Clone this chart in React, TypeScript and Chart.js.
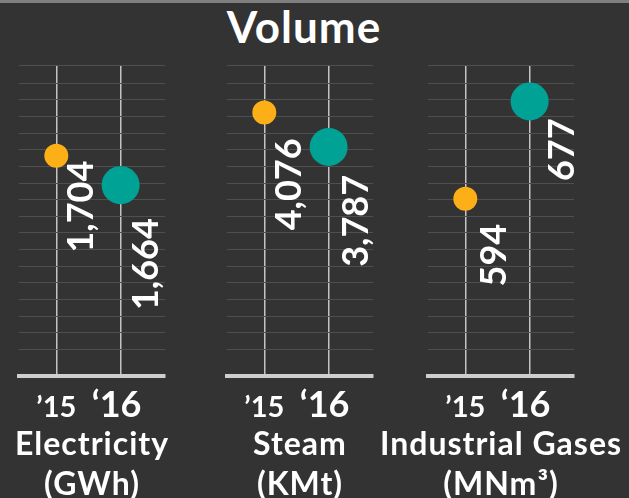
import React, { useEffect, useRef } from "react";
import { Chart, registerables } from "chart.js";

Chart.register(...registerables);

// ---- data ----
const YEARS = ["’15", "‘16"];
const CATEGORIES = ["Electricity", "Steam", "Industrial Gases"];
const UNITS = ["(GWh)", "(KMt)", "(MNm³)"];
const VALUES_2015 = [1704, 4076, 594];
const VALUES_2016 = [1664, 3787, 677];
const AXIS_MIN = [1405, 1869, 443];
const AXIS_MAX = [1827, 4473, 708];
const X_MIN = -0.58;
const X_MAX = 1.69;

// ---- layout / style ----
const W = 629;
const H = 498;
const PLOT_TOP = 65;
const PLOT_BOTTOM = 376;
const PANEL_LEFT = [19, 227, 428];
const PANEL_RIGHT = [165, 373, 574];
const LABEL_OFFSETS = [
  [[24, 5], [24, 33]],
  [[24, 26], [26, 28]],
  [[28, 25], [31, 17]],
];
const YEAR_DX = [0, -4];
const FONT = "Lato, 'Noto Sans', sans-serif";
const WEIGHT = "bold";
const ORANGE = "#FCAF17";
const TEAL = "#00A295";
const BG = "#333333";
const GRID = "#4f4f4f";
const VLINE = "#c4c4c4";
const BASE = "#cfcfcf";

function Panel({ index }: { index: number }) {
  const ref = useRef<HTMLCanvasElement | null>(null);
  useEffect(() => {
    const canvas = ref.current!;
    const values = [VALUES_2015[index], VALUES_2016[index]];
    const textPlugin = {
      id: "panelText",
      afterDraw(chart: any) {
        const ctx = chart.ctx as any;
        const xs = chart.scales.x;
        const area = chart.chartArea;
        const meta = chart.getDatasetMeta(0);
        ctx.save();
        ctx.fillStyle = "#ffffff";
        // rotated value labels
        meta.data.forEach((pt: any, i: number) => {
          const [dx, dy] = LABEL_OFFSETS[index][i];
          const size = 36;
          ctx.save();
          ctx.translate(pt.x + dx + size * 0.36, pt.y + dy);
          ctx.rotate(-Math.PI / 2);
          ctx.font = `${WEIGHT} ${size}px ${FONT}`;
          ctx.textAlign = "right";
          ctx.textBaseline = "alphabetic";
          ctx.fillText(values[i].toLocaleString("en-US"), 0, 0);
          ctx.restore();
        });
        // year labels
        YEARS.forEach((label, i) => {
          const size = i === 0 ? 29 : 36;
          ctx.font = `${WEIGHT} ${size}px ${FONT}`;
          ctx.textAlign = "center";
          ctx.textBaseline = "alphabetic";
          ctx.fillText(label, xs.getPixelForValue(i) + YEAR_DX[i], 417);
        });
        // category names
        const cx = (area.left + area.right) / 2;
        ctx.font = `${WEIGHT} 32px ${FONT}`;
        ctx.letterSpacing = "1px";
        ctx.textAlign = "center";
        ctx.fillText(CATEGORIES[index], cx, 455);
        ctx.fillText(UNITS[index], cx, 495);
        ctx.restore();
      },
    };
    const chart = new Chart(canvas, {
      type: "scatter",
      data: {
        datasets: [
          {
            data: [
              { x: 0, y: VALUES_2015[index] },
              { x: 1, y: VALUES_2016[index] },
            ],
            pointRadius: [12, 19],
            pointHoverRadius: [12, 19],
            backgroundColor: [ORANGE, TEAL],
            borderWidth: 0,
            clip: false,
          } as any,
        ],
      },
      options: {
        responsive: false,
        animation: false,
        devicePixelRatio: 1,
        events: [],
        layout: {
          padding: {
            left: PANEL_LEFT[index],
            right: W - PANEL_RIGHT[index],
            top: PLOT_TOP,
            bottom: H - PLOT_BOTTOM,
          },
        },
        plugins: { legend: { display: false }, tooltip: { enabled: false } },
        scales: {
          x: {
            type: "linear",
            min: X_MIN,
            max: X_MAX,
            afterBuildTicks: (s: any) => {
              s.ticks = YEARS.map((_, i) => ({ value: i }));
            },
            ticks: { display: false },
            grid: { color: VLINE, lineWidth: 1.5, drawTicks: false },
            border: { display: true, color: BASE, width: 4 },
          },
          y: {
            type: "linear",
            min: AXIS_MIN[index],
            max: AXIS_MAX[index],
            afterBuildTicks: (s: any) => {
              const span = s.max - s.min;
              const h = PLOT_BOTTOM - PLOT_TOP;
              const t = [{ value: s.max }];
              for (let k = 0; k < 17; k++) {
                t.push({ value: s.max - (span * (18.3 + k * 16.63)) / h });
              }
              s.ticks = t;
            },
            ticks: { display: false },
            grid: { color: GRID, lineWidth: 1, drawTicks: false },
            border: { display: false },
          },
        },
      } as any,
      plugins: [textPlugin],
    });
    return () => chart.destroy();
  }, [index]);
  return (
    <canvas
      ref={ref}
      width={W}
      height={H}
      style={{ position: "absolute", left: 0, top: 0, width: W, height: H, pointerEvents: "none" }}
    />
  );
}

export default function App() {
  return (
    <div
      style={{
        position: "fixed",
        left: 0,
        top: 0,
        width: W,
        height: H,
        background: BG,
        overflow: "hidden",
      }}
    >
      <div style={{ position: "absolute", left: 0, top: 0, width: W, height: 3, background: "#7f7f7f" }} />
      <div
        style={{
          position: "absolute",
          left: 304 - 150,
          width: 300,
          top: 5,
          textAlign: "center",
          font: `${WEIGHT} 44px/43px ${FONT}`,
          letterSpacing: "1px",
          color: "#ffffff",
        }}
      >
        Volume
      </div>
      {CATEGORIES.map((_, i) => (
        <Panel key={i} index={i} />
      ))}
    </div>
  );
}
